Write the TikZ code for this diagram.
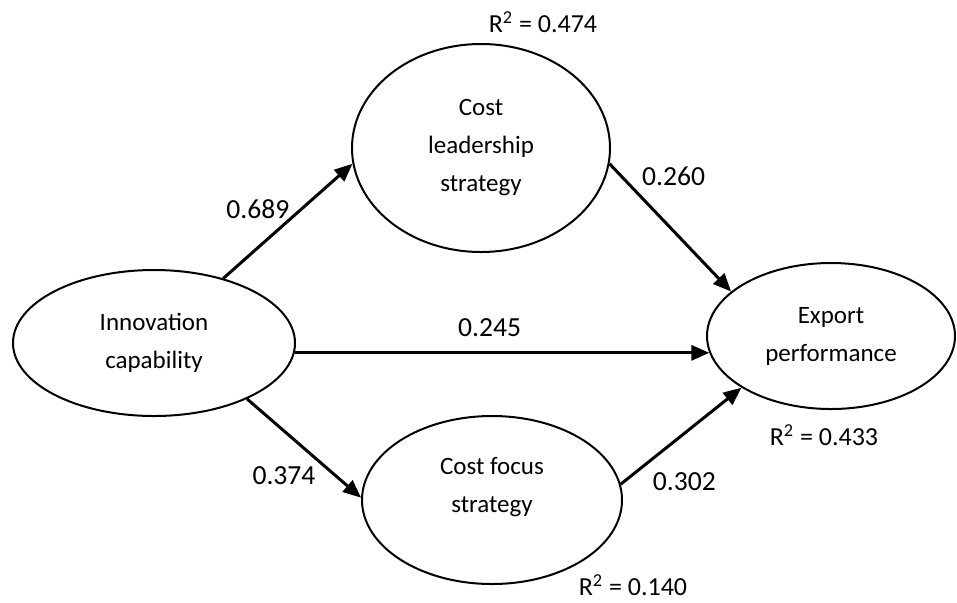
\documentclass[tikz,border=0pt]{standalone}
\usepackage{fontspec}
\setmainfont{Carlito}
\usepackage{tikz}
\usetikzlibrary{shapes,arrows.meta,positioning}

\begin{document}
\begin{tikzpicture}[
        construct/.style={ellipse, draw, line width=1pt, inner sep=0pt, align=center, font=\fontsize{12.5}{19}\selectfont},
        arrow/.style={-{Triangle[length=9pt,width=7.5pt]}, line width=1.5pt},
        coef/.style={font=\fontsize{13.8}{16}\selectfont, inner sep=0pt},
        rsq/.style={font=\fontsize{13}{15}\selectfont, inner sep=0pt, anchor=base}
    ]
    \useasboundingbox (-77pt,171.5pt) rectangle (401.5pt,-129.5pt);

    % Exogenous construct
    \node[construct, minimum width=141pt, minimum height=73pt] (innov) at (0,0) {Innovation\\capability};

    % Mediators
    \node[construct, minimum width=129pt, minimum height=104pt, on grid, above right=97.5pt and 163.5pt of innov] (costlead) {Cost\\leadership\\strategy};
    \node[construct, minimum width=130pt, minimum height=84pt, text depth=15pt, on grid, below right=78.5pt and 169pt of innov] (costfocus) {Cost focus\\strategy};

    % Outcome
    \node[construct, minimum width=124pt, minimum height=73pt, on grid, right=338.5pt of innov, yshift=3.5pt] (export) {Export\\performance};

    % Explained variance
    \node[rsq] (r2lead) at ([xshift=31pt, yshift=5.5pt]costlead.north) {R\textsuperscript{2} = 0.474};
    \node[rsq] (r2export) at ([xshift=-3.5pt, yshift=-17.5pt]export.south) {R\textsuperscript{2} = 0.433};
    \node[rsq] (r2focus) at ([xshift=70.5pt, yshift=-5pt]costfocus.south) {R\textsuperscript{2} = 0.140};

    % Path coefficients
    \draw[arrow] (innov.43.7) -- node[coef, pos=0.6, left=5pt] {0.689} (costlead.187.5);
    \draw[arrow] (costlead.-7.5) -- node[coef, pos=0.1, right=9.5pt] {0.260} (export.156.5);
    \draw[arrow] (innov.-4) -- node[coef, pos=0.47, above=7.5pt] {0.245} (innov.-4 -| export.188);
    \draw[arrow] (innov.-31.7) -- node[coef, pos=0.78, left=9.5pt] {0.374} (costfocus.179);
    \draw[arrow] (costfocus.7.6) -- node[coef, pos=0.03, right=13.5pt] {0.302} (export.210.7);

\end{tikzpicture}
\end{document}
